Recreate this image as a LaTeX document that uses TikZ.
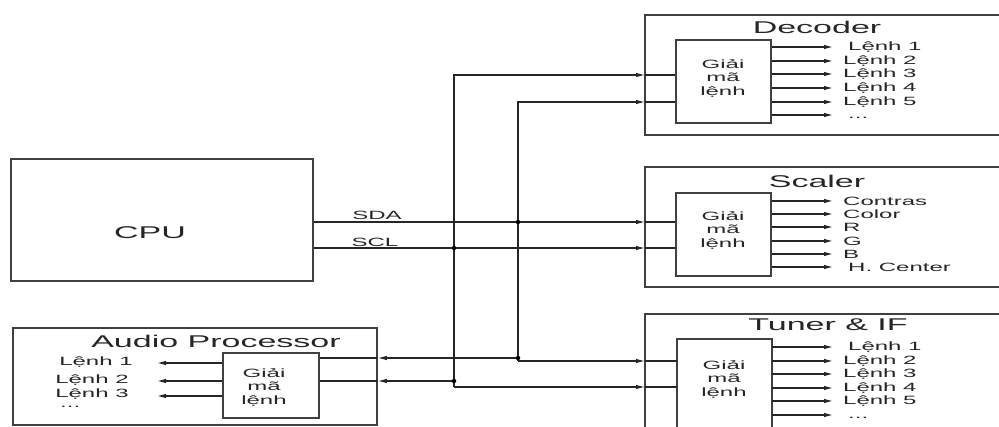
\documentclass[tikz,border=0pt]{standalone}
\usepackage{fontspec}
\setmainfont[FakeStretch=2]{Liberation Sans}
\usetikzlibrary{arrows.meta}
\begin{document}
\begin{tikzpicture}[x=1pt,y=-1pt,
  wire/.style={line width=1.1pt, draw=black!85},
  arr/.style={wire,-{Latex[length=9pt,width=4.5pt]}},
  frame/.style={line width=1.5pt, draw=black!75},
  boxnode/.style={frame, draw, inner sep=0pt},
  sm/.style={font=\fontsize{12}{13.5}\selectfont, text=black!85, inner sep=0pt},
  ttl/.style={font=\fontsize{17}{19}\selectfont, text=black!85, inner sep=0pt},
  lbl/.style={sm, anchor=west},
  jdot/.style={circle, fill=black, inner sep=0pt, minimum size=4.5pt}]
\useasboundingbox (0,0) rectangle (999,427);

% CPU
\node[boxnode, minimum width=302pt, minimum height=122pt] (cpu) at (162,220) {};
\node[ttl] (cputxt) at (150,233) {CPU};
\node[sm] (sda) at (377,215) {SDA};
\node[sm] (scl) at (375,242) {SCL};

% Decoder
\draw[frame] (999,15) -- (645,15) -- (645,135) -- (999,135);
\node[ttl] (dtitle) at (817,27) {Decoder};
\node[boxnode, minimum width=95pt, minimum height=83pt] (dd) at (723.5,81.5) {};
\node[sm, align=center] (ddtxt) at (723,78) {Giải\\mã\\lệnh};
\foreach \y/\t/\xx in {47/Lệnh 1/848, 61/Lệnh 2/843, 74/Lệnh 3/843, 88/Lệnh 4/843, 102/Lệnh 5/843}{
  \draw[arr] (dd.east |- 0,\y) -- (833,\y);
  \node[lbl] at (\xx,\y) {\t};
}
\draw[arr] (dd.east |- 0,115) -- (833,115);
\node[lbl] at (848,118) {...};

% Scaler
\draw[frame] (999,167) -- (645,167) -- (645,287) -- (999,287);
\node[ttl] (stitle) at (817,181) {Scaler};
\node[boxnode, minimum width=95pt, minimum height=83pt] (sd) at (723.5,234.5) {};
\node[sm, align=center] (sdtxt) at (723,230) {Giải\\mã\\lệnh};
\foreach \y/\t/\xx in {201/Contras/843, 214/Color/843, 227/R/843, 241/G/843, 254/B/843, 267/H. Center/848}{
  \draw[arr] (sd.east |- 0,\y) -- (833,\y);
  \node[lbl] at (\xx,\y) {\t};
}

% Tuner & IF
\draw[frame] (999,314) -- (645,314) -- (645,427);
\node[ttl] (ttitle) at (828,325) {Tuner \& IF};
\draw[frame] (677,427) -- (677,339) -- (772,339) -- (772,427);
\coordinate (tdw) at (677,380);
\coordinate (tde) at (772,380);
\node[sm, align=center] (tdtxt) at (724,379) {Giải\\mã\\lệnh};
\foreach \y/\t/\xx in {347/Lệnh 1/848, 361/Lệnh 2/843, 374/Lệnh 3/843, 388/Lệnh 4/843, 401/Lệnh 5/843}{
  \draw[arr] (tde |- 0,\y) -- (833,\y);
  \node[lbl] at (\xx,\y) {\t};
}
\draw[arr] (tde |- 0,415) -- (833,415);
\node[lbl] at (848,418) {...};

% Audio Processor
\node[boxnode, minimum width=364pt, minimum height=97pt] (ap) at (195,376.5) {};
\node[ttl] (atitle) at (216,341) {Audio Processor};
\node[boxnode, minimum width=96pt, minimum height=65pt] (ad) at (271,385.5) {};
\node[sm, align=center] (adtxt) at (264,387) {Giải\\mã\\lệnh};
\draw[arr] (ad.west |- 0,363) -- (157,363);
\draw[arr] (ad.west |- 0,381) -- (157,381);
\draw[arr] (ad.west |- 0,396) -- (157,396);
\node[sm] at (96,362) {Lệnh 1};
\node[sm] at (92,380) {Lệnh 2};
\node[sm] at (92,394) {Lệnh 3};
\node[lbl] at (60,407) {...};

% Bus
\coordinate (b1d) at (454,75);
\coordinate (b1t) at (454,387);
\coordinate (b2d) at (518,102);
\coordinate (b2t) at (518,361);

\draw[arr] (cpu.east |- 0,222) -- (645,222);
\draw[wire] (645,222) -- (sd.west |- 0,222);
\draw[arr] (cpu.east |- 0,248) -- (645,248);
\draw[wire] (645,248) -- (sd.west |- 0,248);

\draw[arr] (b1t) -- (b1d) -- (645,75);
\draw[wire] (645,75) -- (dd.west |- 0,75);
\draw[arr] (b2t) -- (b2d) -- (645,102);
\draw[wire] (645,102) -- (dd.west |- 0,102);

\draw[arr] (b2t) -- (645,361);
\draw[wire] (645,361) -- (tdw |- 0,361);
\draw[arr] (b1t) -- (645,387);
\draw[wire] (645,387) -- (tdw |- 0,387);

\draw[arr] (518,358) -- (ap.east |- 0,358);
\draw[wire] (ap.east |- 0,358) -- (ad.east |- 0,358);
\draw[arr] (454,381) -- (ap.east |- 0,381);
\draw[wire] (ap.east |- 0,381) -- (ad.east |- 0,381);

\node[jdot] (j1) at (518,222) {};
\node[jdot] (j2) at (454,248) {};
\node[jdot] (j3) at (518,358) {};
\node[jdot] (j4) at (454,381) {};
\end{tikzpicture}
\end{document}
